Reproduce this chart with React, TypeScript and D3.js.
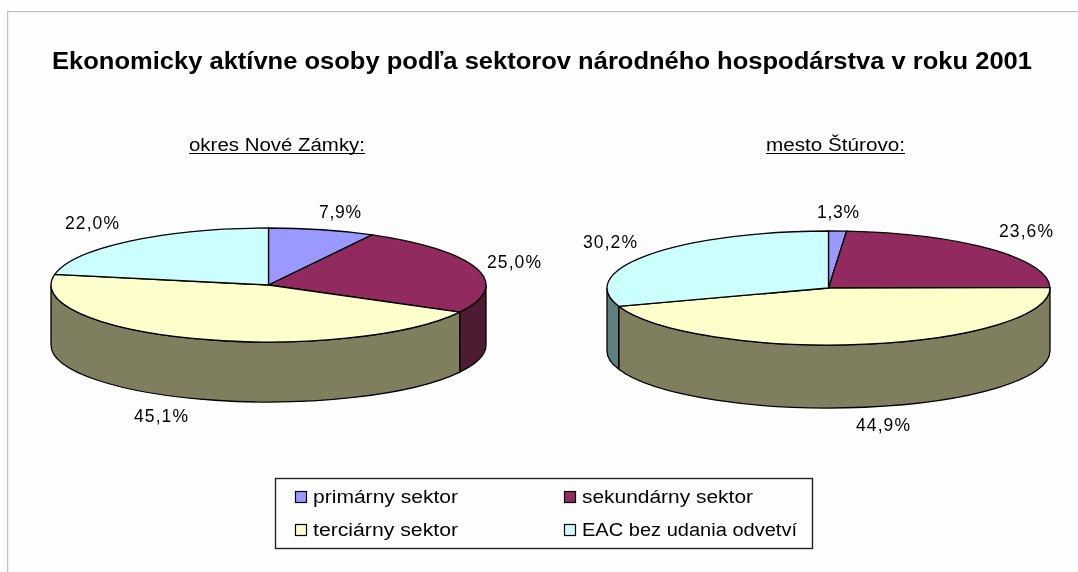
import React from "react";
import * as d3 from "d3";

const sectors = ["primárny sektor", "sekundárny sektor", "terciárny sektor", "EAC bez udania odvetví"];
const valuesNoveZamky = [7.9, 25.0, 45.1, 22.0];
const valuesSturovo = [1.3, 23.6, 44.9, 30.2];
const topColors = ["#9999FF", "#912B5E", "#FFFFCC", "#CCFFFF"];
const sideColors = ["#4D4D80", "#4D1A33", "#7F7F5F", "#608080"];
const titleText = "Ekonomicky aktívne osoby podľa sektorov národného hospodárstva v roku 2001";
const subtitleLeft = "okres Nové Zámky:";
const subtitleRight = "mesto Štúrovo:";

const FONT = "'Liberation Sans', Arial, sans-serif";
const fmt = (v: number) => v.toFixed(1).replace(".", ",") + "%";

type Lp = [number, number];
const pies = [
  { values: valuesNoveZamky, cx: 268.5, cy: 285, rx: 217.5, ry: 57, depth: 60, sub: subtitleLeft, subX: 189, subW: 176,
    labels: [[340, 212], [514, 262], [161, 416], [92, 223]] as Lp[] },
  { values: valuesSturovo, cx: 828.5, cy: 288, rx: 221.5, ry: 57, depth: 63, sub: subtitleRight, subX: 766, subW: 139,
    labels: [[838, 212], [1026, 231], [883, 425], [610, 242]] as Lp[] },
];

function Pie3D({ p }: { p: (typeof pies)[number] }) {
  const arcs = d3.pie<number>().sort(null).startAngle(0).endAngle(2 * Math.PI)(p.values);
  const x = d3.scaleLinear().domain([-1, 1]).range([p.cx - p.rx, p.cx + p.rx]);
  const y = d3.scaleLinear().domain([-1, 1]).range([p.cy + p.ry, p.cy - p.ry]);
  const px = (a: number) => x(Math.sin(a));
  const py = (a: number) => y(Math.cos(a));
  const lo = Math.PI / 2, hi = (3 * Math.PI) / 2;
  return (
    <g>
      {arcs.map((a, i) => {
        const s = Math.max(a.startAngle, lo), e = Math.min(a.endAngle, hi);
        if (e <= s) return null;
        const d = `M${px(s)},${py(s)}A${p.rx},${p.ry} 0 0 1 ${px(e)},${py(e)}L${px(e)},${py(e) + p.depth}A${p.rx},${p.ry} 0 0 0 ${px(s)},${py(s) + p.depth}Z`;
        return <path key={i} d={d} fill={sideColors[i]} stroke="#000" strokeWidth={1.3} />;
      })}
      {arcs.map((a, i) => {
        const large = a.endAngle - a.startAngle > Math.PI ? 1 : 0;
        const d = `M${p.cx},${p.cy}L${px(a.startAngle)},${py(a.startAngle)}A${p.rx},${p.ry} 0 ${large} 1 ${px(a.endAngle)},${py(a.endAngle)}Z`;
        return <path key={i} d={d} fill={topColors[i]} stroke="#000" strokeWidth={1.3} />;
      })}
      {p.values.map((v, i) => {
        const t = fmt(v);
        return (
          <text key={i} x={p.labels[i][0]} y={p.labels[i][1] + 6} textAnchor="middle" fontSize={17.5} fill="#000" textLength={t.length === 4 ? 42 : 54} lengthAdjust="spacing">
            {t}
          </text>
        );
      })}
      <text x={p.subX} y={151} fontSize={18} fill="#000" textLength={p.subW} lengthAdjust="spacingAndGlyphs">{p.sub}</text>
      <line x1={p.subX} x2={p.subX + p.subW} y1={153.5} y2={153.5} stroke="#000" strokeWidth={1} />
    </g>
  );
}

const legendCols = [295, 564];
const legendRows = [491, 524];
const legendW = [145, 171, 145, 215];

export default function App() {
  return (
    <svg width={1078} height={572} fontFamily={FONT}
      style={{ position: "absolute", left: 0, top: 0, display: "block", background: "#fefefe" }}>
      <defs>
        <filter id="soft" x="0" y="0" width="100%" height="100%">
          <feGaussianBlur stdDeviation="0.4" />
        </filter>
      </defs>
      <rect width={1078} height={572} fill="#fefefe" />
      <g filter="url(#soft)">
        <path d="M1078,11.5H7.5V572" fill="none" stroke="#c0c0c0" strokeWidth={1.5} />
        <text x={52} y={69} fontSize={23.5} fontWeight="bold" fill="#000" textLength={980} lengthAdjust="spacingAndGlyphs">{titleText}</text>
        {pies.map((p, i) => <Pie3D key={i} p={p} />)}
        <rect x={275.5} y={478.5} width={537} height={70} fill="#fefefe" stroke="#222" strokeWidth={1.4} />
        {sectors.map((s, i) => {
          const c = i % 2, r = Math.floor(i / 2);
          return (
            <g key={s}>
              <rect x={legendCols[c] + 0.5} y={legendRows[r] + 0.5} width={11} height={11} fill={topColors[i]} stroke="#000" strokeWidth={1.2} />
              <text x={legendCols[c] + 18} y={legendRows[r] + 12} fontSize={18} fill="#000" textLength={legendW[i]} lengthAdjust="spacingAndGlyphs">{s}</text>
            </g>
          );
        })}
      </g>
    </svg>
  );
}
